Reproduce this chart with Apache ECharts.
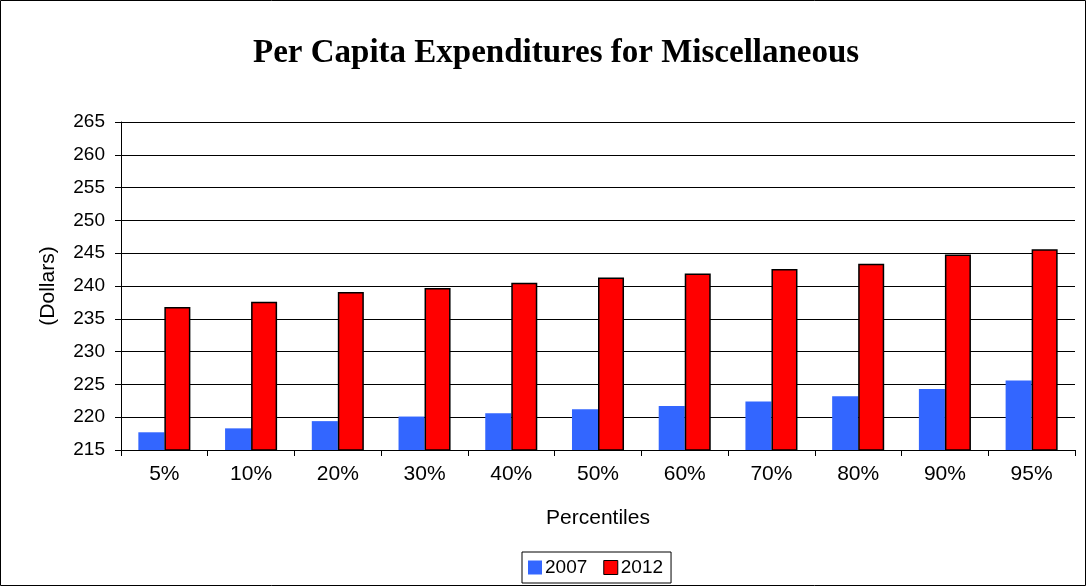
<!DOCTYPE html>
<html><head><meta charset="utf-8">
<script src="https://cdn.jsdelivr.net/npm/echarts@6/dist/echarts.min.js"></script>
<style>html,body{margin:0;padding:0;background:#fff}#c{width:1086px;height:586px}</style>
</head><body><div id="c"></div>
<script>
const categories = ['5%','10%','20%','30%','40%','50%','60%','70%','80%','90%','95%'];
const s2007 = [217.7,218.3,219.4,220.1,220.6,221.2,221.7,222.4,223.2,224.3,225.6];
const s2012 = [236.8,237.6,239.1,239.7,240.5,241.3,241.9,242.6,243.4,244.8,245.6];
const yTicks = {min:215, max:265, interval:5};

const chart = echarts.init(document.getElementById('c'), null, {renderer:'canvas'});
const font = 'Liberation Sans, Arial, sans-serif';
chart.setOption({
  animation:false,
  backgroundColor:'#fff',
  graphic:[{type:'rect',shape:{x:0.5,y:0.5,width:1085,height:585},style:{fill:'none',stroke:'#000',lineWidth:1},silent:true}],
  title:{text:'Per Capita Expenditures for Miscellaneous',left:248,top:32,
    textStyle:{fontFamily:'Liberation Serif, Times New Roman, serif',fontWeight:'bold',fontSize:33,color:'#000'}},
  grid:{left:121,right:11,top:122,bottom:136,containLabel:false},
  legend:{bottom:3,left:522,itemWidth:14,itemHeight:14,itemGap:16,
    borderColor:'#000',borderWidth:1,borderRadius:0,padding:[6,8,6,6],
    textStyle:{fontFamily:font,fontSize:19,color:'#000',padding:[0,0,0,-2]},
    data:[{name:'2007',icon:'rect',itemStyle:{borderWidth:0}},{name:'2012',icon:'rect',itemStyle:{borderColor:'#000',borderWidth:1}}]},
  xAxis:{type:'category',data:categories,
    name:'Percentiles',nameLocation:'middle',nameGap:58,
    nameTextStyle:{fontFamily:font,fontSize:21,color:'#000'},
    axisLine:{lineStyle:{color:'#000',width:1}},
    axisTick:{show:true,length:6,lineStyle:{color:'#000'}},
    axisLabel:{fontFamily:font,fontSize:21,color:'#000',margin:14}},
  yAxis:{type:'value',min:yTicks.min,max:yTicks.max,interval:yTicks.interval,
    name:'(Dollars)',nameLocation:'middle',nameGap:62,nameRotate:90,
    nameTextStyle:{fontFamily:font,fontSize:21,color:'#000'},
    axisLine:{show:true,lineStyle:{color:'#000',width:1}},
    axisTick:{show:true,length:6,lineStyle:{color:'#000'}},
    axisLabel:{fontFamily:font,fontSize:19,color:'#000',margin:16},
    splitLine:{lineStyle:{color:'#000',width:1}}},
  series:[
    {name:'2007',type:'bar',data:s2007,barGap:'0%',barCategoryGap:'40%',
      itemStyle:{color:'#3366FF'}},
    {name:'2012',type:'bar',data:s2012,barGap:'0%',barCategoryGap:'40%',
      itemStyle:{color:'#FF0000',borderColor:'#000',borderWidth:1.5}}
  ]
});
</script></body></html>
